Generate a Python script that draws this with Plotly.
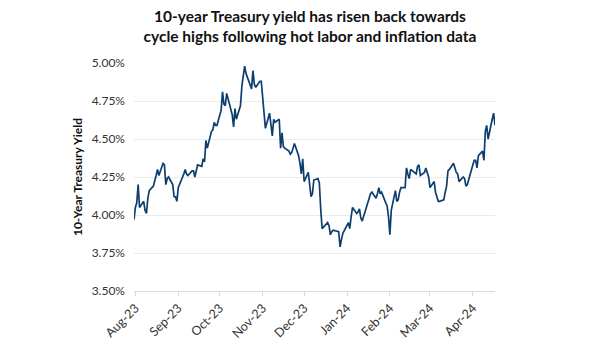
import plotly.graph_objects as go

title_lines = ["10-year Treasury yield has risen back towards",
               "cycle highs following hot labor and inflation data"]
y_title = "10-Year Treasury Yield"

dates = [
    "2023-07-31",
    "2023-08-01", "2023-08-02", "2023-08-03", "2023-08-04", "2023-08-07", "2023-08-08", "2023-08-09",
    "2023-08-10", "2023-08-11", "2023-08-14", "2023-08-15", "2023-08-16", "2023-08-17", "2023-08-18",
    "2023-08-21", "2023-08-22", "2023-08-23", "2023-08-24", "2023-08-25", "2023-08-28", "2023-08-29",
    "2023-08-30", "2023-08-31",
    "2023-09-01", "2023-09-05", "2023-09-06", "2023-09-07", "2023-09-08", "2023-09-11", "2023-09-12",
    "2023-09-13", "2023-09-14", "2023-09-15", "2023-09-18", "2023-09-19", "2023-09-20", "2023-09-21",
    "2023-09-22", "2023-09-25", "2023-09-26", "2023-09-27", "2023-09-28", "2023-09-29",
    "2023-10-02", "2023-10-03", "2023-10-04", "2023-10-05", "2023-10-06", "2023-10-10", "2023-10-11",
    "2023-10-12", "2023-10-13", "2023-10-16", "2023-10-17", "2023-10-18", "2023-10-19", "2023-10-20",
    "2023-10-23", "2023-10-24", "2023-10-25", "2023-10-26", "2023-10-27", "2023-10-30", "2023-10-31",
    "2023-11-01", "2023-11-02", "2023-11-03", "2023-11-06", "2023-11-07", "2023-11-08", "2023-11-09",
    "2023-11-10", "2023-11-13", "2023-11-14", "2023-11-15", "2023-11-16", "2023-11-17", "2023-11-20",
    "2023-11-21", "2023-11-22", "2023-11-24", "2023-11-27", "2023-11-28", "2023-11-29", "2023-11-30",
    "2023-12-01", "2023-12-04", "2023-12-05", "2023-12-06", "2023-12-07", "2023-12-08", "2023-12-11",
    "2023-12-12", "2023-12-13", "2023-12-14", "2023-12-15", "2023-12-18", "2023-12-19", "2023-12-20",
    "2023-12-21", "2023-12-22", "2023-12-26", "2023-12-27", "2023-12-28", "2023-12-29",
    "2024-01-02", "2024-01-03", "2024-01-04", "2024-01-05", "2024-01-08", "2024-01-09", "2024-01-10",
    "2024-01-11", "2024-01-12", "2024-01-16", "2024-01-17", "2024-01-18", "2024-01-19", "2024-01-22",
    "2024-01-23", "2024-01-24", "2024-01-25", "2024-01-26", "2024-01-29", "2024-01-30", "2024-01-31",
    "2024-02-01", "2024-02-02", "2024-02-05", "2024-02-06", "2024-02-07", "2024-02-08", "2024-02-09",
    "2024-02-12", "2024-02-13", "2024-02-14", "2024-02-15", "2024-02-16", "2024-02-20", "2024-02-21",
    "2024-02-22", "2024-02-23", "2024-02-26", "2024-02-27", "2024-02-28", "2024-02-29",
    "2024-03-01", "2024-03-04", "2024-03-05", "2024-03-06", "2024-03-07", "2024-03-08", "2024-03-11",
    "2024-03-12", "2024-03-13", "2024-03-14", "2024-03-15", "2024-03-18", "2024-03-19", "2024-03-20",
    "2024-03-21", "2024-03-22", "2024-03-25", "2024-03-26", "2024-03-27", "2024-03-28",
    "2024-04-01", "2024-04-02", "2024-04-03", "2024-04-04", "2024-04-05", "2024-04-08", "2024-04-09",
    "2024-04-10", "2024-04-11", "2024-04-12", "2024-04-15", "2024-04-16", "2024-04-17",
]

yields = [
    3.97,
    4.05, 4.08, 4.20, 4.05, 4.09, 4.03, 4.01,
    4.11, 4.16, 4.19, 4.22, 4.26, 4.30, 4.26,
    4.34, 4.33, 4.20, 4.24, 4.25, 4.20, 4.12,
    4.12, 4.09,
    4.18, 4.27, 4.30, 4.27, 4.26, 4.29, 4.29,
    4.25, 4.29, 4.33, 4.32, 4.37, 4.35, 4.49,
    4.44, 4.55, 4.56, 4.61, 4.59, 4.59,
    4.69, 4.81, 4.73, 4.72, 4.80, 4.66, 4.58,
    4.70, 4.63, 4.72, 4.85, 4.93, 4.98, 4.93,
    4.86, 4.83, 4.95, 4.86, 4.84, 4.88, 4.88,
    4.77, 4.67, 4.57, 4.67, 4.58, 4.52, 4.63,
    4.61, 4.63, 4.44, 4.54, 4.45, 4.44, 4.42,
    4.40, 4.41, 4.47, 4.39, 4.34, 4.27, 4.37,
    4.22, 4.28, 4.18, 4.12, 4.14, 4.23, 4.24,
    4.21, 4.04, 3.91, 3.92, 3.95, 3.93, 3.87,
    3.89, 3.90, 3.89, 3.79, 3.84, 3.88,
    3.95, 3.91, 3.99, 4.05, 4.01, 4.02, 4.04,
    3.98, 3.96, 4.07, 4.10, 4.14, 4.15, 4.11,
    4.14, 4.18, 4.14, 4.15, 4.08, 4.06, 3.99,
    3.87, 4.03, 4.16, 4.09, 4.10, 4.15, 4.18,
    4.18, 4.31, 4.27, 4.24, 4.30, 4.27, 4.32,
    4.33, 4.26, 4.28, 4.31, 4.27, 4.25,
    4.18, 4.22, 4.15, 4.11, 4.09, 4.09, 4.10,
    4.15, 4.19, 4.29, 4.30, 4.34, 4.30, 4.28,
    4.27, 4.22, 4.25, 4.24, 4.19, 4.20,
    4.33, 4.36, 4.36, 4.31, 4.39, 4.42, 4.36,
    4.55, 4.59, 4.50, 4.63, 4.67, 4.59,
]

month_ticks = ["2023-08-01", "2023-09-01", "2023-10-01", "2023-11-01", "2023-12-01",
               "2024-01-01", "2024-02-01", "2024-03-01", "2024-04-01"]
month_labels = ["Aug-23", "Sep-23", "Oct-23", "Nov-23", "Dec-23",
                "Jan-24", "Feb-24", "Mar-24", "Apr-24"]
y_ticks = [3.50, 3.75, 4.00, 4.25, 4.50, 4.75, 5.00]
y_labels = ["3.50%", "3.75%", "4.00%", "4.25%", "4.50%", "4.75%", "5.00%"]

FONT = "Lato"
# page body has an 8px default margin; figure is sized/placed to compensate
W, H = 592, 351

fig = go.Figure()
fig.add_trace(go.Scatter(
    x=dates, y=yields, mode="lines",
    line=dict(color="#0d3f6e", width=1.7),
    hoverinfo="skip", showlegend=False,
))

fig.update_layout(
    width=W, height=H,
    margin=dict(l=126, r=105, t=55, b=68, autoexpand=False),
    paper_bgcolor="white", plot_bgcolor="white",
    font=dict(family=FONT, size=12, color="#333333"),
    title=dict(
        text="<b>" + title_lines[0] + "<br>" + title_lines[1] + "</b>",
        font=dict(family=FONT, size=15.5, color="#111111"),
        x=302 / W, xref="container", xanchor="center",
        y=(H - 14) / H, yref="container", yanchor="top",
        automargin=False,
    ),
    xaxis=dict(
        type="date",
        range=["2023-07-31", "2024-04-17"],
        tickvals=month_ticks, ticktext=month_labels,
        tickangle=-45,
        showgrid=False, zeroline=False,
        showline=True, linecolor="#d9d9d9", linewidth=1,
        ticks="outside", ticklen=4, tickcolor="#d9d9d9",
        tickfont=dict(family=FONT, size=12.5, color="#333333"),
        automargin=False,
    ),
    yaxis=dict(
        range=[3.5, 5.0],
        tickvals=y_ticks, ticktext=y_labels,
        showgrid=True, gridcolor="#ebebeb", gridwidth=1,
        zeroline=False, showline=False,
        ticks="", ticklabelstandoff=8,
        tickfont=dict(family=FONT, size=12, color="#333333"),
        title=dict(text="<b>" + y_title + "</b>",
                   font=dict(family=FONT, size=12, color="#111111"),
                   standoff=6),
        automargin=False,
    ),
)

fig.write_html("out.html")
